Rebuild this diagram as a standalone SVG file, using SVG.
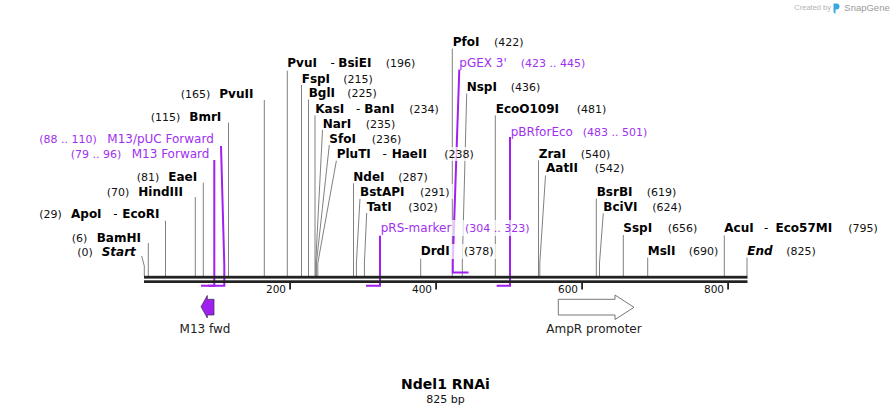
<svg xmlns="http://www.w3.org/2000/svg" width="892" height="415" viewBox="0 0 892 415">
<style>
.n{font-family:"DejaVu Sans",Verdana,sans-serif;font-size:12px;font-weight:bold;fill:#000}
.h{font-weight:normal}
.i{font-style:italic}
.p{font-family:"DejaVu Sans",Verdana,sans-serif;font-size:11px;fill:#111}
.f{font-family:"DejaVu Sans",Verdana,sans-serif;font-size:12px;fill:#a030f0}
.fp{font-family:"DejaVu Sans",Verdana,sans-serif;font-size:11px;fill:#a030f0}
.t{font-family:"DejaVu Sans",Verdana,sans-serif;font-size:10.5px;fill:#111;text-anchor:end}
.c{font-family:"DejaVu Sans",Verdana,sans-serif;font-size:12px;fill:#222;text-anchor:middle}
.s{stroke:#808080;stroke-width:1;fill:none}
.pl{stroke:#a020f0;stroke-width:2;fill:none}
.bg{fill:#fff;fill-opacity:0.72}
</style>
<rect width="892" height="415" fill="#fff"/>

<g id="logo">
<text x="794.3" y="10" style="font-family:'Liberation Sans',Arial,sans-serif;font-size:7.5px;fill:#b4b4b4">Created by</text>
<path d="M833.5,3.5 h3 a3,3 0 0 1 0,6 h-1 v4.5 l-2,-1.8 z" fill="#3aa7e0"/>
<text x="844.3" y="11" style="font-family:'Liberation Sans',Arial,sans-serif;font-size:9.5px;fill:#9a9a9a">SnapGene</text>
</g>

<g id="connectors">
<!-- left sites -->
<polyline class="s" points="141.7,256 144.3,266 144.3,276"/>
<line class="s" x1="148.3" y1="243" x2="148.3" y2="276"/>
<line class="s" x1="165.5" y1="220.7" x2="165.5" y2="276"/>
<line class="s" x1="195.3" y1="197" x2="195.3" y2="276"/>
<line class="s" x1="203.3" y1="182.7" x2="203.3" y2="276"/>
<line class="s" x1="228.5" y1="122.7" x2="228.5" y2="276"/>
<line class="s" x1="264.3" y1="100" x2="264.3" y2="276"/>
<!-- middle sites -->
<line class="s" x1="287.3" y1="70.7" x2="287.3" y2="276"/>
<line class="s" x1="301.5" y1="85" x2="301.5" y2="276"/>
<line class="s" x1="308.5" y1="99.5" x2="308.5" y2="276"/>
<line class="s" x1="315" y1="115.3" x2="315" y2="276"/>
<polyline class="s" points="322.5,130 315.7,263 315.7,276"/>
<polyline class="s" points="329.3,145 316.4,263 316.4,276"/>
<polyline class="s" points="336.5,160 317.8,263 317.8,276"/>
<line class="s" x1="353.5" y1="183.3" x2="353.5" y2="276"/>
<polyline class="s" points="360,198.3 356.4,263 356.4,276"/>
<polyline class="s" points="366.7,213 364.4,263 364.4,276"/>
<line class="s" x1="420.7" y1="258" x2="420.7" y2="276"/>
<line class="s" x1="452.3" y1="48.5" x2="452.3" y2="276"/>
<polyline class="s" points="466.7,93.5 462.3,263 462.3,276"/>
<line class="s" x1="495.3" y1="115.3" x2="495.3" y2="276"/>
<line class="s" x1="538.5" y1="160.3" x2="538.5" y2="276"/>
<polyline class="s" points="545.5,175.5 539.8,263 539.8,276"/>
<!-- right sites -->
<line class="s" x1="596.3" y1="198.5" x2="596.3" y2="276"/>
<polyline class="s" points="603.3,213.3 599.5,263 599.5,276"/>
<line class="s" x1="623.3" y1="235" x2="623.3" y2="276"/>
<line class="s" x1="647.7" y1="257.5" x2="647.7" y2="276"/>
<line class="s" x1="724.3" y1="235.5" x2="724.3" y2="276"/>
<line class="s" x1="747" y1="257.5" x2="747" y2="276"/>
<!-- primers -->
<polyline class="pl" points="221,146 224.3,265 224.3,285.7 208.2,285.7"/>
<polyline class="pl" points="214.3,160 214.3,285.7 201,285.7"/>
<polyline class="pl" points="380,235 380,285.7 366,285.7"/>
<polyline class="pl" points="459.3,69.5 452.8,262 452.8,272.5 468.5,272.5"/>
<polyline class="pl" points="510,137 510,285.7 496.6,285.7"/>
</g>

<g id="backbone">
<rect x="144" y="275.8" width="603.5" height="2.8" fill="#222"/>
<rect x="144" y="280.3" width="603.5" height="2.7" fill="#222"/>
<rect x="289.2" y="282.5" width="1.8" height="7" fill="#222"/>
<rect x="435.2" y="282.5" width="1.8" height="7" fill="#222"/>
<rect x="581.2" y="282.5" width="1.8" height="7" fill="#222"/>
<rect x="727.2" y="282.5" width="1.8" height="7" fill="#222"/>
<text class="t" x="286" y="292.5">200</text>
<text class="t" x="432" y="292.5">400</text>
<text class="t" x="578" y="292.5">600</text>
<text class="t" x="724" y="292.5">800</text>
</g>

<g id="label-backgrounds">
<rect class="bg" x="335" y="147" width="144" height="14"/>
<rect class="bg" x="358" y="184" width="96" height="15"/>
<rect class="bg" x="378.5" y="220" width="157" height="16"/>
<rect class="bg" x="418.5" y="244" width="80" height="15"/>
</g>

<g id="site-Start"><text class="p" x="77.3" y="256">(0)</text><text class="n i" x="101.7" y="256">Start</text></g>
<g id="site-BamHI"><text class="p" x="71.7" y="241.7">(6)</text><text class="n" x="96.7" y="241.7">BamHI</text></g>
<g id="site-ApoI-EcoRI"><text class="p" x="39.3" y="218.3">(29)</text><text class="n" x="71" y="218.3">ApoI<tspan class="h" x="113.3">-</tspan><tspan x="122.3">EcoRI</tspan></text></g>
<g id="site-HindIII"><text class="p" x="106.7" y="195.7">(70)</text><text class="n" x="138.3" y="195.7">HindIII</text></g>
<g id="site-EaeI"><text class="p" x="136.7" y="181">(81)</text><text class="n" x="168.3" y="181">EaeI</text></g>
<g id="primer-M13-Forward"><text class="fp" x="70.7" y="157.7">(79 .. 96)</text><text class="f" x="131.7" y="157.7">M13 Forward</text></g>
<g id="primer-M13pUC-Forward"><text class="fp" x="39.3" y="143.3">(88 .. 110)</text><text class="f" x="107.3" y="143.3">M13/pUC Forward</text></g>
<g id="site-BmrI"><text class="p" x="150.7" y="120.7">(115)</text><text class="n" x="189.3" y="120.7">BmrI</text></g>
<g id="site-PvuII"><text class="p" x="180.7" y="98.3">(165)</text><text class="n" x="219.3" y="98.3">PvuII</text></g>

<g id="site-PvuI-BsiEI"><text class="n" x="287.3" y="67.3">PvuI<tspan class="h" x="330.5">-</tspan><tspan x="338.3">BsiEI</tspan></text><text class="p" x="385.7" y="67.3">(196)</text></g>
<g id="site-FspI"><text class="n" x="301.7" y="82.7">FspI</text><text class="p" x="343.3" y="82.7">(215)</text></g>
<g id="site-BglI"><text class="n" x="308.7" y="97.3">BglI</text><text class="p" x="347.3" y="97.3">(225)</text></g>
<g id="site-KasI-BanI"><text class="n" x="315.3" y="112.7">KasI<tspan class="h" x="356">-</tspan><tspan x="364.3">BanI</tspan></text><text class="p" x="409.3" y="112.7">(234)</text></g>
<g id="site-NarI"><text class="n" x="322.7" y="127.7">NarI</text><text class="p" x="365.7" y="127.7">(235)</text></g>
<g id="site-SfoI"><text class="n" x="329.3" y="142.7">SfoI</text><text class="p" x="371.7" y="142.7">(236)</text></g>
<g id="site-PluTI-HaeII"><text class="n" x="336.7" y="157.7">PluTI<tspan class="h" x="382.5">-</tspan><tspan x="391.7">HaeII</tspan></text><text class="p" x="444.3" y="157.7">(238)</text></g>
<g id="site-NdeI"><text class="n" x="353.3" y="180.7">NdeI</text><text class="p" x="398.3" y="180.7">(287)</text></g>
<g id="site-BstAPI"><text class="n" x="360" y="195.7">BstAPI</text><text class="p" x="420" y="195.7">(291)</text></g>
<g id="site-TatI"><text class="n" x="366.7" y="210.7">TatI</text><text class="p" x="408.3" y="210.7">(302)</text></g>
<g id="primer-pRS-marker"><text class="f" x="380.7" y="231.7">pRS-marker</text><text class="fp" x="465" y="231.7">(304 .. 323)</text></g>
<g id="site-DrdI"><text class="n" x="420.7" y="255.3">DrdI</text><text class="p" x="464" y="255.3">(378)</text></g>
<g id="site-PfoI"><text class="n" x="452.7" y="45.7">PfoI</text><text class="p" x="494" y="45.7">(422)</text></g>
<g id="primer-pGEX-3"><text class="f" x="459.3" y="67.3">pGEX 3'</text><text class="fp" x="520.7" y="67.3">(423 .. 445)</text></g>
<g id="site-NspI"><text class="n" x="466.7" y="91">NspI</text><text class="p" x="510.7" y="91">(436)</text></g>
<g id="site-EcoO109I"><text class="n" x="495.7" y="112.7">EcoO109I</text><text class="p" x="576.7" y="112.7">(481)</text></g>
<g id="primer-pBRforEco"><text class="f" x="510.7" y="136">pBRforEco</text><text class="fp" x="582.7" y="136">(483 .. 501)</text></g>
<g id="site-ZraI"><text class="n" x="538.7" y="157.7">ZraI</text><text class="p" x="580.7" y="157.7">(540)</text></g>
<g id="site-AatII"><text class="n" x="546" y="172.3">AatII</text><text class="p" x="594.7" y="172.3">(542)</text></g>
<g id="site-BsrBI"><text class="n" x="596.7" y="195.7">BsrBI</text><text class="p" x="646.7" y="195.7">(619)</text></g>
<g id="site-BciVI"><text class="n" x="603.3" y="210.7">BciVI</text><text class="p" x="652.3" y="210.7">(624)</text></g>
<g id="site-SspI"><text class="n" x="623.3" y="232.3">SspI</text><text class="p" x="667.7" y="232.3">(656)</text></g>
<g id="site-AcuI-Eco57MI"><text class="n" x="724.3" y="232.3">AcuI<tspan class="h" x="764">-</tspan><tspan x="775.5">Eco57MI</tspan></text><text class="p" x="848.3" y="232.3">(795)</text></g>
<g id="site-MslI"><text class="n" x="647.7" y="255">MslI</text><text class="p" x="688.7" y="255">(690)</text></g>
<g id="site-End"><text class="n i" x="747.3" y="255">End</text><text class="p" x="786.3" y="255">(825)</text></g>

<g id="feature-M13-fwd">
<polygon points="214,299.3 207.3,299.3 207.3,295.5 201,306.7 207.3,318 207.3,315 214,315" fill="#a020f0" stroke="#3a2a4a" stroke-width="0.7"/>
<text class="c" x="205" y="332.7">M13 fwd</text>
</g>
<g id="feature-AmpR-promoter">
<polygon points="558.3,299.3 615,299.3 615,295 634,307.3 615,319.5 615,315 558.3,315" fill="#fff" stroke="#777" stroke-width="1"/>
<text class="c" x="594" y="332.7">AmpR promoter</text>
</g>

<g id="title">
<text x="445.5" y="389" style="font-family:'DejaVu Sans',Verdana,sans-serif;font-size:14px;font-weight:bold;fill:#000;text-anchor:middle">Ndel1 RNAi</text>
<text x="445.5" y="402.5" style="font-family:'DejaVu Sans',Verdana,sans-serif;font-size:11px;fill:#111;text-anchor:middle">825 bp</text>
</g>
</svg>
